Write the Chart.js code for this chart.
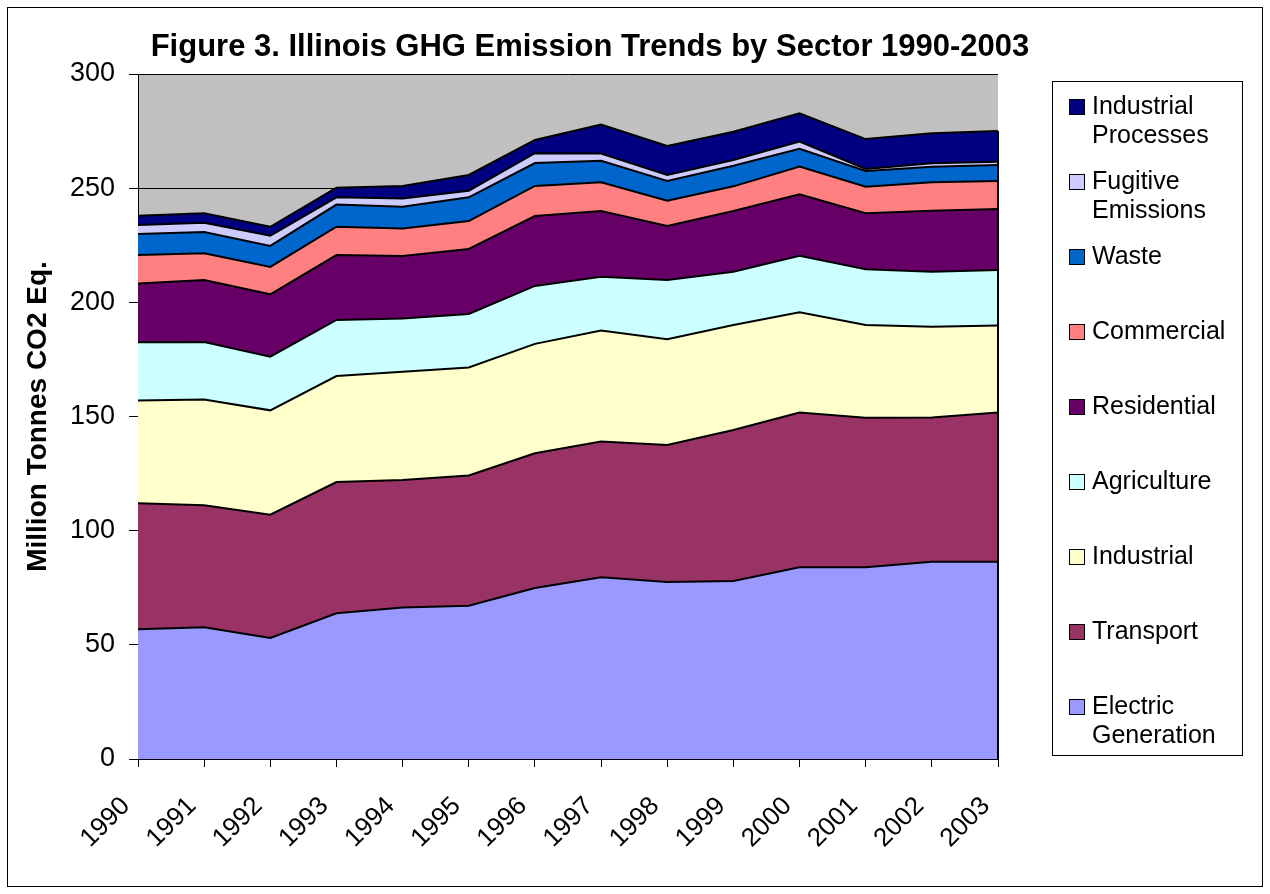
<!DOCTYPE html>
<html>
<head>
<meta charset="utf-8">
<title>Illinois GHG Emission Trends by Sector 1990-2003</title>
<script src="https://cdn.jsdelivr.net/npm/chart.js@4/dist/chart.umd.min.js"></script>
<style>
  html, body { margin: 0; padding: 0; background: #fff; }
  #chart { display: block; }
</style>
</head>
<body>
<canvas id="chart" width="1270" height="894"></canvas>
<script>
// emissions, million tonnes CO2 eq., stacked bottom to top
const years = ['1990', '1991', '1992', '1993', '1994', '1995', '1996', '1997', '1998', '1999', '2000', '2001', '2002', '2003'];
const electricGeneration = [56.8, 57.7, 53.0, 63.8, 66.4, 67.1, 74.9, 79.6, 77.5, 78.0, 84.0, 84.0, 86.4, 86.4];
const transport = [55.2, 53.4, 54.0, 57.5, 55.8, 57.1, 59.0, 59.4, 60.0, 66.1, 67.7, 65.5, 63.2, 65.4];
const industrial = [45.0, 46.3, 45.7, 46.4, 47.4, 47.3, 47.9, 48.7, 46.3, 46.0, 43.9, 40.6, 39.7, 38.1];
const agriculture = [25.5, 25.2, 23.5, 24.6, 23.3, 23.4, 25.4, 23.5, 26.0, 23.3, 24.8, 24.4, 24.1, 24.3];
const residential = [25.8, 27.2, 27.3, 28.4, 27.4, 28.5, 30.6, 28.8, 23.6, 26.6, 26.9, 24.5, 26.7, 26.7];
const commercial = [12.4, 11.7, 12.0, 12.4, 12.0, 12.2, 13.2, 12.6, 11.1, 10.8, 12.2, 11.6, 12.5, 12.2];
const waste = [9.2, 9.3, 9.2, 9.7, 9.6, 10.4, 10.0, 9.4, 8.7, 9.0, 7.7, 6.9, 6.8, 7.0];
const fugitiveEmissions = [4.0, 4.1, 4.5, 3.2, 3.6, 2.9, 4.3, 3.2, 2.6, 2.5, 3.2, 0.9, 1.5, 1.5];
const industrialProcesses = [4.0, 4.1, 3.9, 4.2, 5.5, 6.9, 5.8, 12.7, 12.7, 12.4, 12.4, 13.1, 13.1, 13.4];

const yTicks = [0, 50, 100, 150, 200, 250, 300];

const series = [
  { label: ['Electric', 'Generation'], data: electricGeneration, color: '#9999FF' },
  { label: ['Transport'], data: transport, color: '#993366' },
  { label: ['Industrial'], data: industrial, color: '#FFFFCC' },
  { label: ['Agriculture'], data: agriculture, color: '#CCFFFF' },
  { label: ['Residential'], data: residential, color: '#660066' },
  { label: ['Commercial'], data: commercial, color: '#FF8080' },
  { label: ['Waste'], data: waste, color: '#0066CC' },
  { label: ['Fugitive', 'Emissions'], data: fugitiveEmissions, color: '#CCCCFF' },
  { label: ['Industrial', 'Processes'], data: industrialProcesses, color: '#000080' }
];

const FONT = 'Arial, "Liberation Sans", sans-serif';

// grey plot background, outer frame and title
const backdrop = {
  id: 'backdrop',
  beforeDraw(chart) {
    const { ctx, chartArea: a } = chart;
    ctx.save();
    ctx.fillStyle = '#fff';
    ctx.fillRect(0, 0, chart.width, chart.height);
    ctx.fillStyle = '#C0C0C0';
    ctx.fillRect(a.left, a.top, a.right - a.left, a.bottom - a.top);
    ctx.strokeStyle = '#000';
    ctx.lineWidth = 1;
    ctx.strokeRect(7.5, 7.5, chart.width - 15, chart.height - 15);
    ctx.fillStyle = '#000';
    ctx.font = 'bold 31px ' + FONT;
    ctx.textAlign = 'center';
    ctx.textBaseline = 'middle';
    ctx.fillText('Figure 3. Illinois GHG Emission Trends by Sector 1990-2003', 590, 47);
    ctx.restore();
  }
};

// right-hand edge of the stacked areas
const edge = {
  id: 'edge',
  afterDatasetsDraw(chart) {
    const { ctx, chartArea: a } = chart;
    const top = chart.getDatasetMeta(series.length - 1).data[years.length - 1];
    ctx.save();
    ctx.strokeStyle = '#000';
    ctx.lineWidth = 2;
    ctx.beginPath();
    ctx.moveTo(a.right, top.y);
    ctx.lineTo(a.right, a.bottom);
    ctx.stroke();
    ctx.restore();
  }
};

// boxed legend on the right, top series first
const sideLegend = {
  id: 'sideLegend',
  afterDraw(chart) {
    const { ctx } = chart;
    ctx.save();
    ctx.strokeStyle = '#000';
    ctx.lineWidth = 1;
    ctx.strokeRect(1052.5, 81.5, 190, 674);
    ctx.font = '25px ' + FONT;
    ctx.textAlign = 'left';
    ctx.textBaseline = 'middle';
    const items = series.slice().reverse();
    items.forEach((s, i) => {
      const y = 107 + i * 75;
      ctx.fillStyle = s.color;
      ctx.fillRect(1070, y - 7, 14, 14);
      ctx.strokeStyle = '#000';
      ctx.strokeRect(1069.5, y - 7.5, 15, 15);
      ctx.fillStyle = '#000';
      s.label.forEach((line, j) => ctx.fillText(line, 1092, y + j * 29));
    });
    ctx.restore();
  }
};

new Chart(document.getElementById('chart'), {
  type: 'line',
  data: {
    labels: years,
    datasets: series.map((s, i) => ({
      label: s.label.join(' '),
      data: s.data,
      backgroundColor: s.color,
      borderColor: '#000',
      borderWidth: 2,
      pointRadius: 0,
      tension: 0,
      fill: i === 0 ? 'origin' : '-1'
    }))
  },
  options: {
    responsive: false,
    animation: false,
    events: [],
    layout: { padding: { left: 17, top: 74, right: 272, bottom: 0 } },
    plugins: {
      legend: { display: false },
      title: { display: false },
      tooltip: { enabled: false }
    },
    scales: {
      x: {
        offset: false,
        grid: { drawOnChartArea: false, drawTicks: true, tickLength: 8, tickColor: '#000' },
        border: { color: '#000', width: 1 },
        ticks: {
          minRotation: 45,
          maxRotation: 45,
          autoSkip: false,
          padding: 24,
          labelOffset: -12,
          color: '#000',
          font: { family: FONT, size: 26 }
        },
        afterFit(scale) { scale.height = 135; }
      },
      y: {
        stacked: true,
        min: 0,
        max: 300,
        afterBuildTicks(scale) { scale.ticks = yTicks.map(v => ({ value: v })); },
        grid: { color: '#000', lineWidth: 1, drawTicks: true, tickLength: 9, tickColor: '#000' },
        border: { color: '#000', width: 1 },
        ticks: {
          padding: 14,
          color: '#000',
          font: { family: FONT, size: 27 }
        },
        title: {
          display: true,
          text: 'Million Tonnes CO2 Eq.',
          color: '#000',
          font: { family: FONT, size: 28, weight: 'bold' }
        },
        afterFit(scale) { scale.width = 121; }
      }
    }
  },
  plugins: [backdrop, edge, sideLegend]
});
</script>
</body>
</html>
